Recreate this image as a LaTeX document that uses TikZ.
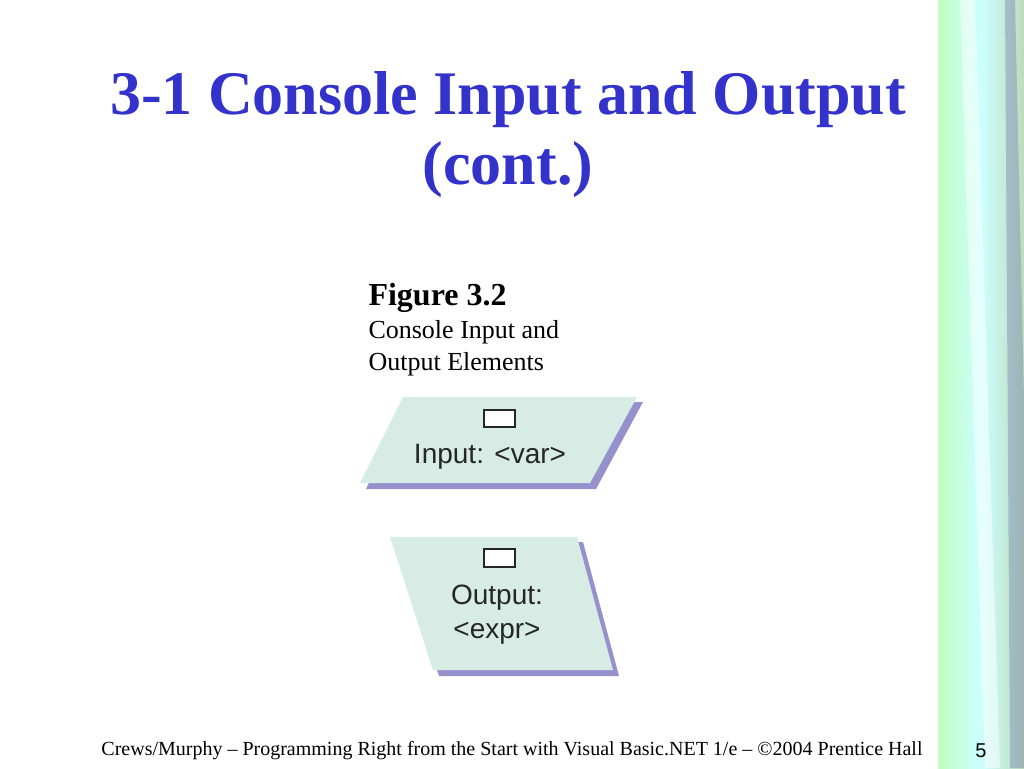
\documentclass[tikz,border=0pt]{standalone}
\usepackage{fontspec}
\setmainfont{Liberation Serif}
\newfontfamily\sans{Liberation Sans}
\definecolor{ttl}{RGB}{51,51,204}
\definecolor{fillc}{RGB}{214,236,228}
\definecolor{shad}{RGB}{150,145,205}
\begin{document}
\begin{tikzpicture}[x=1pt,y=-1pt,
  ioshape/.style={fill=fillc},
  ioshadow/.style={fill=shad},
  lbl/.style={font=\sans\fontsize{28}{32}\selectfont, text=black!85},
  mini/.style={draw=black!85, line width=2pt, fill=white}]
\useasboundingbox (0,0) rectangle (1024,768);
\fill[white] (0,0) rectangle (1024,768);
% right strip
\shade[left color=green!25!white, right color=cyan!20!white] (938,0) rectangle (981,768);
\shade[left color=cyan!20!white, right color=green!30!gray!40] (981,0) rectangle (1024,768);
\fill[white,opacity=0.5] (960,0) -- (975,0) -- (1000,768) -- (985,768) -- cycle;
\fill[blue!30!gray,opacity=0.3] (1005,0) -- (1015,0) -- (1024,400) -- (1024,768) -- (1010,768) -- cycle;
% title
\node[text=ttl, font=\bfseries\fontsize{62}{70}\selectfont] (t1) at (508,100) {3-1 Console Input and Output};
\node[text=ttl, font=\bfseries\fontsize{62}{70}\selectfont] (t2) at (508,170) {(cont.)};
% caption
\node[anchor=west, font=\bfseries\fontsize{32}{36}\selectfont] (fig) at (365,298) {Figure 3.2};
\node[anchor=west, font=\fontsize{26}{30}\selectfont] (c1) at (365,332) {Console Input and};
\node[anchor=west, font=\fontsize{26}{30}\selectfont] (c2) at (365,364) {Output Elements};
% input parallelogram
\fill[ioshadow] (409,402) -- (643,402) -- (596,489) -- (366,489) -- cycle;
\fill[ioshape] (403,397) -- (637,397) -- (590,483) -- (360,483) -- cycle;
\draw[mini] (484,410) rectangle (515,427);
\node[lbl] (in) at (490,457) {Input: <var>};
% output parallelogram
\fill[ioshadow] (396,542) -- (583,542) -- (619,676) -- (439,676) -- cycle;
\fill[ioshape] (390,537) -- (577,537) -- (613,670) -- (433,670) -- cycle;
\draw[mini] (484,549) rectangle (515,567);
\node[lbl] (out1) at (497,598) {Output:};
\node[lbl] (out2) at (497,633) {<expr>};
% footer
\node[font=\fontsize{20}{24}\selectfont] (ft) at (512,751) {Crews/Murphy -- Programming Right from the Start with Visual Basic.NET 1/e -- \textcopyright 2004 Prentice Hall};
\node[font=\sans\fontsize{20}{24}\selectfont] (pg) at (981,751) {5};
\end{tikzpicture}
\end{document}
